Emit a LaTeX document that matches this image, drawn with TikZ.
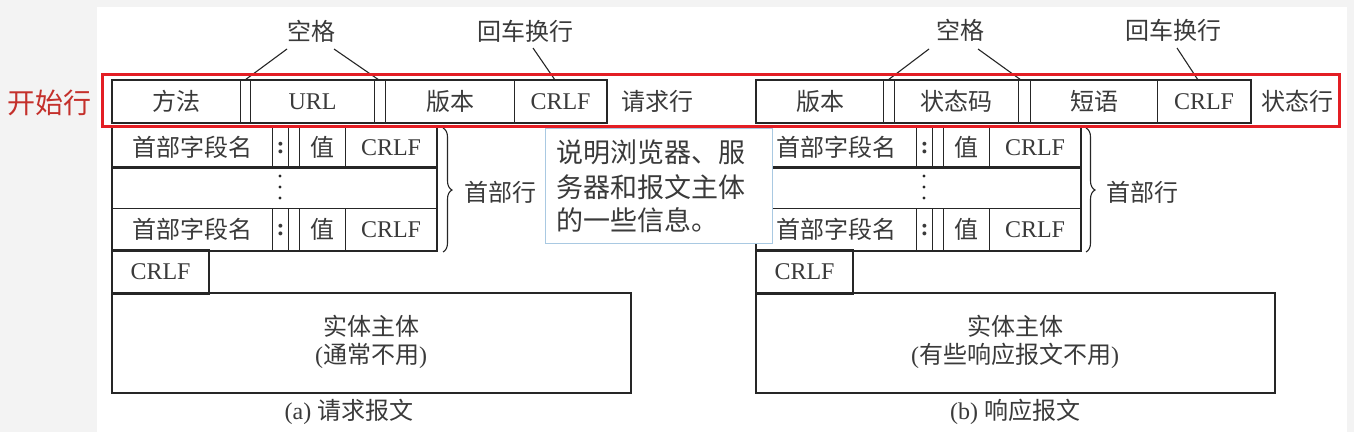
\documentclass[tikz,border=0pt]{standalone}
\usepackage{fontspec}
\setmainfont{Liberation Serif}
\newfontfamily\cjk{Noto Sans CJK SC}
\usetikzlibrary{decorations.pathreplacing}
\definecolor{ln}{HTML}{262626}
\definecolor{tx}{HTML}{3A3A3A}
\definecolor{redbox}{HTML}{E31E24}
\definecolor{redtxt}{HTML}{C4302B}
\definecolor{notebd}{HTML}{A9C9E2}
\definecolor{bg}{HTML}{F3F3F3}
\begin{document}
\begin{tikzpicture}[x=1pt,y=-1pt,
  cell/.style={draw=ln, line width=1.1pt, inner sep=0pt, text=tx,
    font=\fontsize{24}{28}\selectfont, anchor=north west, minimum height=#1},
  cell/.default=42pt,
  frame/.style={draw=ln, line width=1.8pt},
  lbl/.style={inner sep=0pt, text=tx, font=\fontsize{24}{28}\selectfont},
  lead/.style={draw=ln, line width=1.1pt},
  dot/.style={fill=ln, draw=none},
  hbrace/.style={draw=ln, line width=1.1pt, decorate, decoration={brace, amplitude=9pt}},
  notetxt/.style={inner sep=0pt, anchor=base west, text=tx, font=\cjk\fontsize{27}{34}\selectfont}
]
\useasboundingbox (0,0) rectangle (1354,432);
\fill[bg] (0,0) rectangle (1354,432);
\fill[white] (97,7) rectangle (1347,432);

% ---------------- (a) request ----------------
% request line
\node[cell, minimum width=128pt] (rq1) at (112,80) {\cjk 方法};
\node[cell, minimum width=124pt] (rq2) at (250,80) {URL};
\node[cell, minimum width=129pt] (rq3) at (385,80) {\cjk 版本};
\node[cell, minimum width=92pt] (rq4) at (514,80) {CRLF};
\draw[frame] (rq1.north west) rectangle (rq4.south east);
\node[lbl] (rqlab) at (657,101) {\cjk 请求行};

\node[lbl] (spa) at (311,31) {\cjk 空格};
\coordinate (spa1) at (287,49);
\coordinate (spa2) at (334,49);
\coordinate (gapa1) at (245,80);
\coordinate (gapa2) at (379,80);
\draw[lead] (spa1) -- (gapa1);
\draw[lead] (spa2) -- (gapa2);
\node[lbl] (cra) at (525,31) {\cjk 回车换行};
\coordinate (cra1) at (533,48);
\coordinate (cra2) at (555,80);
\draw[lead] (cra1) -- (cra2);

% header rows
\node[cell=40pt, minimum width=160pt] (ha1) at (112,127) {\cjk 首部字段名};
\node[cell=40pt, minimum width=16pt] (ha2) at (272,127) {\bfseries :};
\node[cell=40pt, minimum width=46pt] (ha3) at (299,127) {\cjk 值};
\node[cell=40pt, minimum width=91pt] (ha4) at (345,127) {CRLF};
\draw[frame] (ha1.north west) rectangle (ha4.south east);
\node[cell=41pt, minimum width=324pt] (hamid) at (112,167) {};
\fill[dot] (280,176) circle (1.7pt) (280,187) circle (1.7pt) (280,198) circle (1.7pt);
\node[cell, minimum width=160pt] (hb1) at (112,208) {\cjk 首部字段名};
\node[cell, minimum width=16pt] (hb2) at (272,208) {\bfseries :};
\node[cell, minimum width=46pt] (hb3) at (299,208) {\cjk 值};
\node[cell, minimum width=91pt] (hb4) at (345,208) {CRLF};
\draw[frame] (hamid.north west) rectangle (hb4.south east);
\draw[frame] (ha1.north west) rectangle (hb4.south east);
\draw[hbrace] (443,128) -- (443,252);
\node[lbl] (hla) at (500,192) {\cjk 首部行};

\node[cell=43pt, minimum width=96pt] (ecra) at (112,250) {CRLF};
\draw[frame] (ecra.north west) rectangle (ecra.south east);
\node[cell=99pt, minimum width=518pt, draw=none] (bodya) at (112,293) {};
\draw[frame] (bodya.north west) rectangle (bodya.south east);
\node[lbl] (bodya1) at (371,326) {\cjk 实体主体};
\node[lbl] (bodya2) at (371,356) {(\cjk 通常不用\rmfamily)};
\node[lbl] (capa) at (349,412) {(a) \cjk 请求报文};

% ---------------- (b) response ----------------
\node[cell, minimum width=127pt] (st1) at (756,80) {\cjk 版本};
\node[cell, minimum width=124pt] (st2) at (894,80) {\cjk 状态码};
\node[cell, minimum width=127pt] (st3) at (1030,80) {\cjk 短语};
\node[cell, minimum width=93pt] (st4) at (1157,80) {CRLF};
\draw[frame] (st1.north west) rectangle (st4.south east);
\node[lbl] (stlab) at (1297,101) {\cjk 状态行};

\node[lbl] (spb) at (960,30) {\cjk 空格};
\coordinate (spb1) at (929,49);
\coordinate (spb2) at (978,49);
\coordinate (gapb1) at (888,80);
\coordinate (gapb2) at (1021,80);
\draw[lead] (spb1) -- (gapb1);
\draw[lead] (spb2) -- (gapb2);
\node[lbl] (crb) at (1173,30) {\cjk 回车换行};
\coordinate (crb1) at (1177,48);
\coordinate (crb2) at (1198,80);
\draw[lead] (crb1) -- (crb2);

\node[cell=40pt, minimum width=160pt] (hc1) at (756,127) {\cjk 首部字段名};
\node[cell=40pt, minimum width=16pt] (hc2) at (916,127) {\bfseries :};
\node[cell=40pt, minimum width=46pt] (hc3) at (943,127) {\cjk 值};
\node[cell=40pt, minimum width=91pt] (hc4) at (989,127) {CRLF};
\node[cell=41pt, minimum width=324pt] (hbmid) at (756,167) {};
\fill[dot] (924,176) circle (1.7pt) (924,187) circle (1.7pt) (924,198) circle (1.7pt);
\node[cell, minimum width=160pt] (hd1) at (756,208) {\cjk 首部字段名};
\node[cell, minimum width=16pt] (hd2) at (916,208) {\bfseries :};
\node[cell, minimum width=46pt] (hd3) at (943,208) {\cjk 值};
\node[cell, minimum width=91pt] (hd4) at (989,208) {CRLF};
\draw[frame] (hc1.north west) rectangle (hc4.south east);
\draw[frame] (hbmid.north west) rectangle (hd4.south east);
\draw[frame] (hc1.north west) rectangle (hd4.south east);
\draw[hbrace] (1086,128) -- (1086,252);
\node[lbl] (hlb) at (1142,192) {\cjk 首部行};

\node[cell=43pt, minimum width=96pt] (ecrb) at (756,250) {CRLF};
\draw[frame] (ecrb.north west) rectangle (ecrb.south east);
\node[cell=99pt, minimum width=518pt, draw=none] (bodyb) at (756,293) {};
\draw[frame] (bodyb.north west) rectangle (bodyb.south east);
\node[lbl] (bodyb1) at (1015,326) {\cjk 实体主体};
\node[lbl] (bodyb2) at (1015,356) {(\cjk 有些响应报文不用\rmfamily)};
\node[lbl] (capb) at (1015,412) {(b) \cjk 响应报文};

% ---------------- start line highlight ----------------
\draw[redbox, line width=3pt] (102,74) rectangle (1339,126);
\node[inner sep=0pt, text=redtxt, font=\cjk\fontsize{28}{32}\selectfont] (start) at (50,103) {开始行};

% ---------------- note ----------------
\node[draw=notebd, line width=1.2pt, fill=white, anchor=north west,
  minimum width=227pt, minimum height=115pt, inner sep=0pt] (note) at (545,128) {};
\node[notetxt] (note1) at (556,162) {说明浏览器、服};
\node[notetxt] (note2) at (556,197) {务器和报文主体};
\node[notetxt] (note3) at (556,230) {的一些信息。};
\end{tikzpicture}
\end{document}
